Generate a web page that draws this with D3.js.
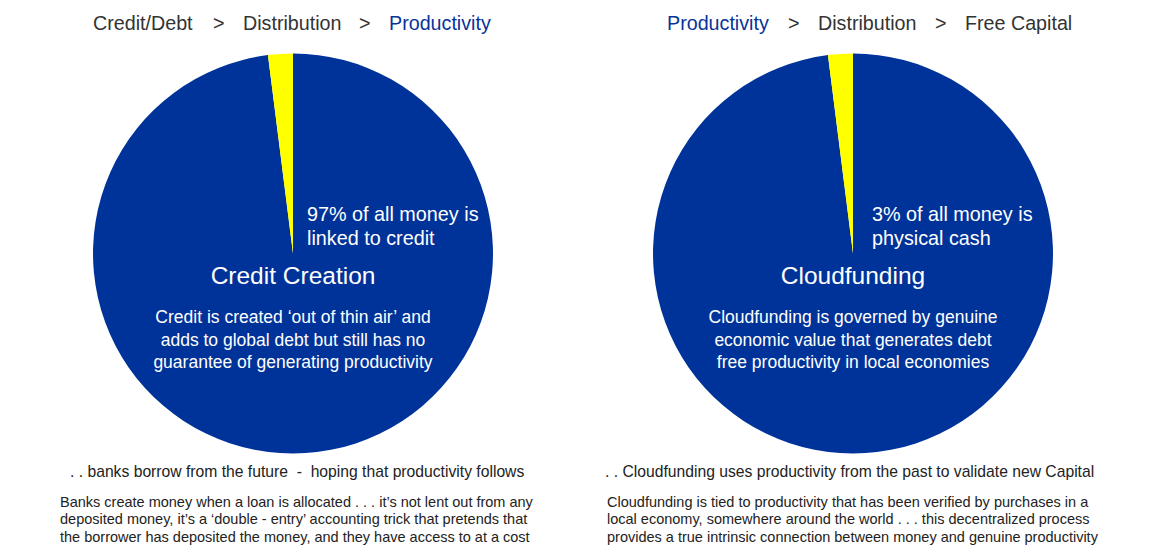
<!DOCTYPE html>
<html><head><meta charset="utf-8">
<script src="https://cdn.jsdelivr.net/npm/d3@7"></script>
<style>
html,body{margin:0;padding:0;background:#fff;}
svg{display:block;font-family:"Liberation Sans",Arial,Helvetica,sans-serif;}
</style></head>
<body>
<svg id="chart" width="1150" height="550"></svg>
<script>
// ---- data ----
const sliceNames = ["Credit / other", "Physical cash"];
const leftShares = [98, 2];   // visual share of the slices in the left pie
const rightShares = [98, 2];  // visual share of the slices in the right pie
const sliceColors = ["#003399", "#ffff00"];

const leftCrumbs = ["Credit/Debt", ">", "Distribution", ">", "Productivity"];
const rightCrumbs = ["Productivity", ">", "Distribution", ">", "Free Capital"];
const leftCallout = ["97% of all money is", "linked to credit"];
const rightCallout = ["3% of all money is", "physical cash"];
const pieTitles = ["Credit Creation", "Cloudfunding"];
const leftBody = ["Credit is created \u2018out of thin air\u2019 and", "adds to global debt but still has no", "guarantee of generating productivity"];
const rightBody = ["Cloudfunding is governed by genuine", "economic value that generates debt", "free productivity in local economies"];
const leftTagline = ". . banks borrow from the future  -  hoping that productivity follows";
const rightTagline = ". . Cloudfunding uses productivity from the past to validate new Capital";
const leftPara = ["Banks create money when a loan is allocated . . . it\u2019s not lent out from any", "deposited money, it\u2019s a \u2018double - entry\u2019 accounting trick that pretends that", "the borrower has deposited the money, and they have access to at a cost"];
const rightPara = ["Cloudfunding is tied to productivity that has been verified by purchases in a", "local economy, somewhere around the world . . . this decentralized process", "provides a true intrinsic connection between money and genuine productivity"];

// ---- drawing ----
const svg = d3.select("#chart");
const pie = d3.pie().sort(null).value(d => d);
const R = 200;
const arc = d3.arc().innerRadius(0).outerRadius(R);

const panels = [
  {cx: 293, shares: leftShares, crumbs: leftCrumbs, crumbX: [93, 213, 243, 359, 389], crumbBlue: [4],
   callout: leftCallout, calloutX: 307, title: pieTitles[0], body: leftBody, tag: leftTagline, tagX: 70, para: leftPara, paraX: 60},
  {cx: 853, shares: rightShares, crumbs: rightCrumbs, crumbX: [667, 788, 818, 935, 965], crumbBlue: [0],
   callout: rightCallout, calloutX: 872, title: pieTitles[1], body: rightBody, tag: rightTagline, tagX: 605, para: rightPara, paraX: 607}
];
const cy = 253.5;

panels.forEach(p => {
  // breadcrumbs
  svg.append("g").selectAll("text").data(p.crumbs).join("text")
    .attr("x", (d, i) => p.crumbX[i]).attr("y", 30)
    .attr("font-size", 19.7)
    .attr("fill", (d, i) => p.crumbBlue.includes(i) ? "#0a3399" : "#333333")
    .text(d => d);

  const g = svg.append("g").attr("transform", `translate(${p.cx},${cy})`);
  g.selectAll("path").data(pie(p.shares)).join("path")
    .attr("d", arc).attr("fill", (d, i) => sliceColors[i]);

  g.selectAll("text.callout").data(p.callout).join("text").attr("class", "callout")
    .attr("x", p.calloutX - p.cx).attr("y", (d, i) => 221 - cy + i * 24)
    .attr("font-size", 19.8).attr("fill", "#fff").text(d => d);

  g.append("text").attr("x", 0).attr("y", 284 - cy).attr("text-anchor", "middle")
    .attr("font-size", 24.5).attr("fill", "#fff").text(p.title);

  g.selectAll("text.body").data(p.body).join("text").attr("class", "body")
    .attr("x", 0).attr("y", (d, i) => 323 - cy + i * 22.5).attr("text-anchor", "middle")
    .attr("font-size", 17.5).attr("fill", "#fff").text(d => d);

  svg.append("text").attr("x", p.tagX).attr("y", 477).attr("font-size", 15.7)
    .attr("fill", "#222").attr("xml:space", "preserve").style("white-space", "pre").text(p.tag);

  svg.append("g").selectAll("text").data(p.para).join("text")
    .attr("x", p.paraX).attr("y", (d, i) => 507 + i * 17.3)
    .attr("font-size", 14.5).attr("fill", "#222").text(d => d);
});
</script>
</body></html>
